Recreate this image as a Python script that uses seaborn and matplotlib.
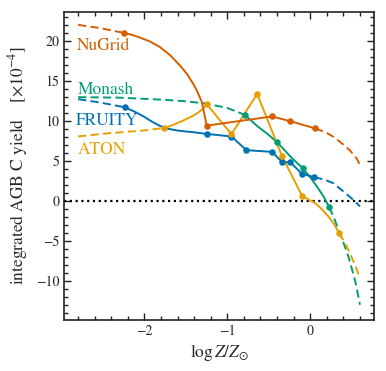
import matplotlib
matplotlib.use("Agg")
import matplotlib.pyplot as plt
import seaborn as sns
import numpy as np
from matplotlib.ticker import MultipleLocator

# ---------------- data ----------------
models = ["NuGrid", "Monash", "FRUITY", "ATON"]

# NuGrid
nugrid_pts_x = [-2.25, -1.25, -0.46, -0.24, 0.06]
nugrid_pts_y = [21.0, 9.4, 10.55, 9.95, 9.05]
nugrid_fit_x = [-2.25, -2.15, -2.05, -1.93, -1.81, -1.69, -1.57, -1.49,
                -1.41, -1.36, -1.31, -1.28, -1.25]
nugrid_fit_y = [21.0, 20.75, 20.4, 19.9, 19.2, 18.2, 16.9, 15.9,
                14.6, 13.6, 12.4, 11.0, 9.4]
nugrid_lo_x = [-2.80, -2.54, -2.25]
nugrid_lo_y = [22.0, 21.6, 21.0]
nugrid_hi_x = [0.06, 0.18, 0.28, 0.38, 0.48, 0.56, 0.60]
nugrid_hi_y = [9.05, 8.6, 8.0, 7.2, 6.3, 5.3, 4.5]

# FRUITY
fruity_pts_x = [-2.24, -1.25, -0.95, -0.77, -0.46, -0.34, -0.24, -0.10, 0.05]
fruity_pts_y = [11.7, 8.37, 8.04, 6.33, 6.12, 4.85, 4.83, 3.37, 2.96]
fruity_fit_x = [-2.24, -2.12, -2.01, -1.91, -1.81, -1.71, -1.61, -1.51,
                -1.41, -1.33, -1.25]
fruity_fit_y = [11.7, 11.15, 10.55, 9.9, 9.35, 9.0, 8.8, 8.68,
                8.58, 8.47, 8.37]
fruity_lo_x = [-2.80, -2.54, -2.24]
fruity_lo_y = [12.71, 12.3, 11.7]
fruity_hi_x = [0.05, 0.17, 0.28, 0.40, 0.52, 0.60]
fruity_hi_y = [2.96, 2.65, 2.2, 1.17, 0.12, -0.7]

# Monash
monash_pts_x = [-0.79, -0.40, -0.09, 0.23]
monash_pts_y = [10.75, 7.33, 4.08, -0.8]
monash_fit_x = [-0.79, -0.72, -0.64, -0.52, -0.40, -0.32, -0.24, -0.165,
                -0.09, 0.0, 0.08, 0.16, 0.23]
monash_fit_y = [10.75, 10.1, 9.35, 8.4, 7.33, 6.45, 5.55, 4.8,
                4.08, 2.95, 1.8, 0.55, -0.8]
monash_lo_x = [-2.80, -2.30, -1.80, -1.50, -1.25, -1.00, -0.79]
monash_lo_y = [12.96, 12.9, 12.65, 12.45, 12.15, 11.6, 10.75]
monash_hi_x = [0.23, 0.29, 0.34, 0.40, 0.46, 0.50, 0.54, 0.57, 0.60]
monash_hi_y = [-0.8, -2.2, -3.6, -5.2, -6.96, -8.4, -9.9, -11.4, -13.0]

# ATON
aton_pts_x = [-1.77, -1.25, -0.95, -0.64, -0.34, -0.10, 0.35]
aton_pts_y = [9.1, 12.1, 8.33, 13.37, 5.58, 0.65, -4.05]
aton_fit1_x = [-1.77, -1.69, -1.61, -1.55, -1.49, -1.41, -1.35, -1.29, -1.25]
aton_fit1_y = [9.1, 9.35, 9.7, 9.95, 10.25, 10.65, 11.05, 11.55, 12.1]
aton_fit2_x = [-0.10, -0.02, 0.06, 0.14, 0.22, 0.29, 0.35]
aton_fit2_y = [0.65, 0.15, -0.29, -1.05, -1.96, -2.95, -4.05]
aton_lo_x = [-2.80, -2.42, -2.01, -1.77]
aton_lo_y = [8.05, 8.46, 8.79, 9.1]
aton_hi_x = [0.35, 0.41, 0.46, 0.54, 0.60]
aton_hi_y = [-4.05, -5.1, -6.12, -8.0, -9.67]

# label positions (data coords, baseline)
label_x = [-2.82, -2.81, -2.83, -2.81]
label_y = [18.9, 13.4, 9.5, 5.9]

# ---------------- style ----------------
sns.set_theme(style="ticks")
plt.rcParams["font.family"] = ["STIXGeneral", "DejaVu Serif"]
plt.rcParams["mathtext.fontset"] = "stix"

colors = {"NuGrid": "#d55e00", "Monash": "#009e73",
          "FRUITY": "#0072b2", "ATON": "#e69f00"}

fig = plt.figure(figsize=(3.86, 3.71), dpi=100)
ax = fig.add_axes([0.166, 0.1375, 0.803, 0.830])

LW = 1.4
DASH = (0, (4.2, 2.2))


def line(x, y, c, ls="-", z=2):
    sns.lineplot(x=x, y=y, ax=ax, color=c, linestyle=ls, linewidth=LW,
                 sort=False, estimator=None, zorder=z)


def pts(x, y, c, z=3):
    sns.scatterplot(x=x, y=y, ax=ax, color=c, s=22, edgecolor=c,
                    linewidth=0, zorder=z)


# zero line
ax.axhline(0, color="black", linestyle=(0, (1, 1.6)), linewidth=1.6, zorder=1)

# Monash
c = colors["Monash"]
line(monash_lo_x, monash_lo_y, c, DASH)
line(monash_fit_x, monash_fit_y, c)
line(monash_hi_x, monash_hi_y, c, DASH)
pts(monash_pts_x, monash_pts_y, c)

# FRUITY
c = colors["FRUITY"]
line(fruity_lo_x, fruity_lo_y, c, DASH)
line(fruity_fit_x + fruity_pts_x[2:], fruity_fit_y + fruity_pts_y[2:], c)
line(fruity_hi_x, fruity_hi_y, c, DASH)
pts(fruity_pts_x, fruity_pts_y, c)

# ATON
c = colors["ATON"]
line(aton_lo_x, aton_lo_y, c, DASH)
line(aton_fit1_x + aton_pts_x[2:5] + aton_fit2_x,
     aton_fit1_y + aton_pts_y[2:5] + aton_fit2_y, c)
line(aton_hi_x, aton_hi_y, c, DASH)
pts(aton_pts_x, aton_pts_y, c)

# NuGrid
c = colors["NuGrid"]
line(nugrid_lo_x, nugrid_lo_y, c, DASH)
line(nugrid_fit_x + nugrid_pts_x[2:], nugrid_fit_y + nugrid_pts_y[2:], c)
line(nugrid_hi_x, nugrid_hi_y, c, DASH)
pts(nugrid_pts_x, nugrid_pts_y, c)

for name, lx, ly in zip(models, label_x, label_y):
    ax.text(lx, ly, name, color=colors[name], fontsize=12.5,
            ha="left", va="baseline")

ax.set_xlim(-2.97, 0.77)
ax.set_ylim(-14.9, 23.6)
ax.xaxis.set_major_locator(MultipleLocator(1))
ax.xaxis.set_minor_locator(MultipleLocator(0.2))
ax.yaxis.set_major_locator(MultipleLocator(5))
ax.yaxis.set_minor_locator(MultipleLocator(1))
ax.tick_params(which="both", direction="in", top=True, right=True,
               color="#222222", labelsize=10, width=1.0)
ax.tick_params(which="major", length=5)
ax.tick_params(which="minor", length=2.8)
for s in ax.spines.values():
    s.set_linewidth(1.2)
    s.set_color("#222222")

ax.set_xlabel(r"$\log Z/Z_{\odot}$", fontsize=12.5, labelpad=3)
ax.set_ylabel(r"integrated AGB C yield    [$\times10^{-4}$]",
              fontsize=12.5, labelpad=4)

fig.savefig("out.png", dpi=100)
